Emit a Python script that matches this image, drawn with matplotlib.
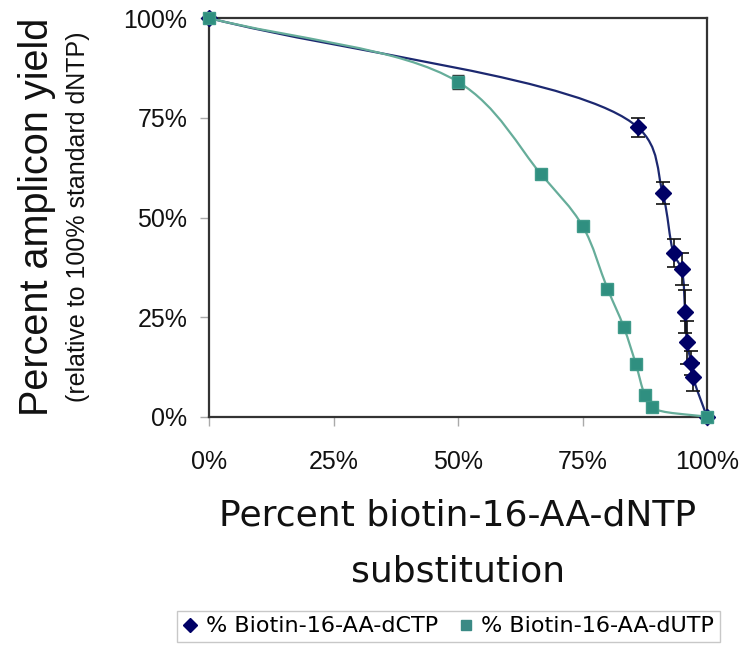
import numpy as np
import matplotlib
matplotlib.use("Agg")
import matplotlib.pyplot as plt
from matplotlib.path import Path
from matplotlib.patches import PathPatch
from matplotlib.lines import Line2D

# ---- data (percent) ----
dctp_x = [0, 86.1, 91.1, 93.3, 94.9, 95.6, 96.0, 96.8, 97.2, 100]
dctp_y = [100, 72.6, 56.1, 41.0, 37.0, 26.4, 18.7, 13.5, 10.0, 0]
dctp_err = [0, 2.3, 2.8, 3.5, 4.0, 5.4, 5.4, 3.0, 3.5, 0]

dutp_x = [0, 50, 66.7, 75, 80, 83.3, 85.7, 87.5, 88.9, 100]
dutp_y = [100, 84.0, 60.8, 47.9, 32.2, 22.5, 13.3, 5.5, 2.4, 0]
dutp_err = [0, 1.7, 1.0, 1.0, 1.2, 1.2, 1.0, 1.2, 1.0, 0]

ticks = [0, 25, 50, 75, 100]
tick_labels = ["0%", "25%", "50%", "75%", "100%"]

series_labels = ["% Biotin-16-AA-dCTP", "% Biotin-16-AA-dUTP"]

C_DCTP_M = "#000066"
C_DCTP_L = "#1c2870"
C_DUTP_M = "#2f8f80"
C_DUTP_L = "#66ad9a"


def smooth_path(ax, x, y, alpha=0.5):
    """Centripetal Catmull-Rom through the data, built as a Bezier Path."""
    tr = ax.transData
    P = tr.transform(np.column_stack([x, y]).astype(float))
    ext = np.vstack([2 * P[0] - P[1], P, 2 * P[-1] - P[-2]])
    verts = [P[0]]
    codes = [Path.MOVETO]
    for i in range(len(P) - 1):
        p0, p1, p2, p3 = ext[i], ext[i + 1], ext[i + 2], ext[i + 3]
        d01 = max(np.linalg.norm(p1 - p0) ** alpha, 1e-6)
        d12 = max(np.linalg.norm(p2 - p1) ** alpha, 1e-6)
        d23 = max(np.linalg.norm(p3 - p2) ** alpha, 1e-6)
        m1 = (p1 - p0) / d01 - (p2 - p0) / (d01 + d12) + (p2 - p1) / d12
        m2 = (p2 - p1) / d12 - (p3 - p1) / (d12 + d23) + (p3 - p2) / d23
        c1 = p1 + m1 * d12 / 3.0
        c2 = p2 - m2 * d12 / 3.0
        verts += [c1, c2, p2]
        codes += [Path.CURVE4] * 3
    verts = tr.inverted().transform(np.array(verts))
    return Path(verts, codes)


fig = plt.figure(figsize=(7.4, 6.47), dpi=100)
ax = fig.add_axes([209 / 740, 1 - 417 / 647, 498 / 740, 399 / 647])
ax.set_xlim(0, 100)
ax.set_ylim(0, 100)

# dCTP
ax.add_patch(PathPatch(smooth_path(ax, dctp_x, dctp_y), facecolor="none",
                       edgecolor=C_DCTP_L, lw=1.6, zorder=3, clip_on=False))
ax.errorbar(dctp_x[1:-1], dctp_y[1:-1], yerr=dctp_err[1:-1], fmt="none",
            ecolor="#111111", elinewidth=1.2, capsize=5, capthick=1.2, zorder=4)
ax.plot(dctp_x, dctp_y, ls="none", marker="D", ms=8.5, color=C_DCTP_M,
        mec=C_DCTP_M, zorder=5, clip_on=False)

# dUTP
ax.add_patch(PathPatch(smooth_path(ax, dutp_x, dutp_y), facecolor="none",
                       edgecolor=C_DUTP_L, lw=1.6, zorder=6, clip_on=False))
ax.errorbar(dutp_x[1:-1], dutp_y[1:-1], yerr=dutp_err[1:-1], fmt="none",
            ecolor="#333333", elinewidth=1.0, capsize=4, capthick=1.0, zorder=7)
ax.plot(dutp_x, dutp_y, ls="none", marker="s", ms=8, color=C_DUTP_M,
        mec="#3f9a8a", zorder=8, clip_on=False)

ax.set_xticks(ticks)
ax.set_xticklabels(tick_labels)
ax.set_yticks(ticks)
ax.set_yticklabels(tick_labels)
for lab in ax.get_xticklabels() + ax.get_yticklabels():
    lab.set_fontfamily("Liberation Sans")
    lab.set_fontsize(18)
    lab.set_color("#111111")
ax.tick_params(axis="x", direction="out", length=6.5, width=1, color="#aaaaaa", pad=17)
ax.tick_params(axis="y", direction="out", length=6.5, width=1, color="#aaaaaa", pad=9)
for s in ax.spines.values():
    s.set_color("#333333")
    s.set_linewidth(1.6)

# y labels
fig.text(37 / 740, 1 - 217 / 647, "Percent amplicon yield", rotation=90,
         ha="center", va="center", fontsize=28.5, family="Liberation Sans", color="#111111")
fig.text(78 / 740, 1 - 217 / 647, "(relative to 100% standard dNTP)", rotation=90,
         ha="center", va="center", fontsize=18, family="Liberation Sans", color="#111111")

# x label
fig.text(458 / 740, 1 - 515 / 647, "Percent biotin-16-AA-dNTP", ha="center", va="center",
         fontsize=26, family="DejaVu Sans", color="#111111")
fig.text(458 / 740, 1 - 572 / 647, "substitution", ha="center", va="center",
         fontsize=26, family="DejaVu Sans", color="#111111")

handles = [
    Line2D([], [], ls="none", marker="D", ms=7, color=C_DCTP_M),
    Line2D([], [], ls="none", marker="s", ms=7, color="#3a8a85"),
]
leg = fig.legend(handles, series_labels, loc="center", bbox_to_anchor=(448.5 / 740, 1 - 626.5 / 647),
                 ncol=2, frameon=True, fancybox=False, edgecolor="#bbbbbb",
                 prop={"family": "DejaVu Sans", "size": 16}, handlelength=0.7,
                 handletextpad=0.35, columnspacing=0.9, borderpad=0.25, borderaxespad=0)
leg.get_frame().set_linewidth(1.0)

fig.savefig("out.png", dpi=100)
